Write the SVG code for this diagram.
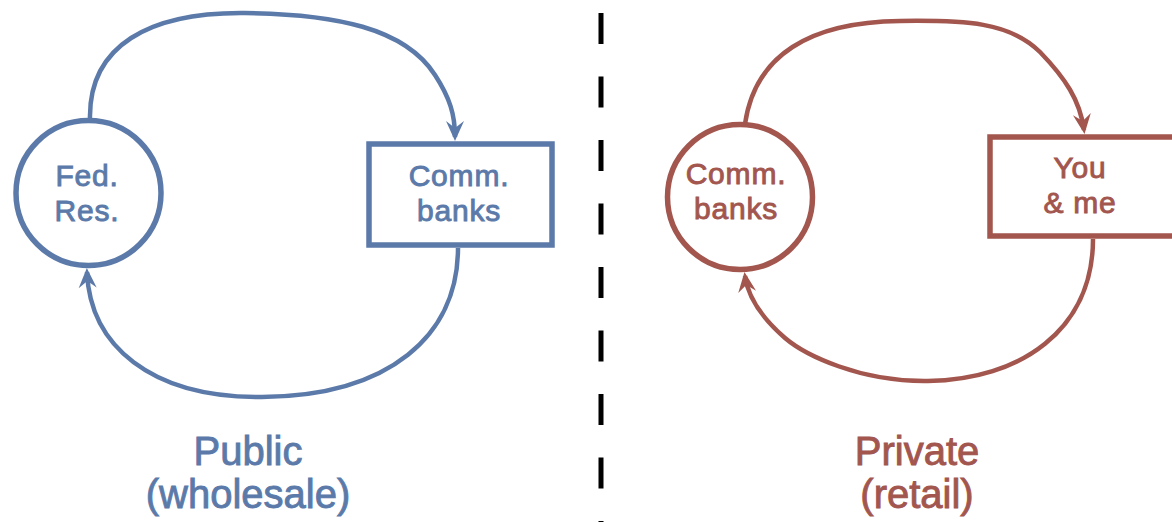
<svg xmlns="http://www.w3.org/2000/svg" width="1172" height="522" viewBox="0 0 1172 522">
  <style>
    .blue { stroke: #5b7aa9; }
    .red { stroke: #a2564e; }
    .node { fill: #ffffff; stroke-width: 5.5; }
    .conn { fill: none; stroke-width: 4.5; }
    .t { font-family: "Liberation Sans", Arial, sans-serif; text-anchor: middle; stroke-width: 0.9; }
    .tb { fill: #5b7aa9; stroke: #5b7aa9; }
    .tr { fill: #a2564e; stroke: #a2564e; }
    .nt { font-size: 30px; letter-spacing: 0.8px; }
    .lt { font-size: 40px; }
  </style>
  <defs>
    <marker id="ab" viewBox="-23 -10 24 20" markerWidth="24" markerHeight="20" refX="-4" refY="0" orient="auto" markerUnits="userSpaceOnUse">
      <path d="M0,0 L-20,-9 L-13,0 L-20,9 Z" fill="#5b7aa9"/>
    </marker>
    <marker id="ar" viewBox="-23 -10 24 20" markerWidth="24" markerHeight="20" refX="-4" refY="0" orient="auto" markerUnits="userSpaceOnUse">
      <path d="M0,0 L-20,-9 L-13,0 L-20,9 Z" fill="#a2564e"/>
    </marker>
  </defs>
  <rect width="1172" height="522" fill="#ffffff"/>

  <g id="divider">
    <line x1="601" y1="13" x2="601" y2="522" stroke="#000000" stroke-width="5" stroke-dasharray="31 32.5"/>
  </g>

  <g id="connectors">
    <path class="conn blue" d="M 90 120 C 88 45, 150 12, 245 13 C 335 14, 405 28, 435 75 C 450 98, 455 115, 455 137" marker-end="url(#ab)"/>
    <path class="conn blue" d="M 458 248 C 458 335, 390 396, 262 397 C 150 398, 90 345, 87 272" marker-end="url(#ab)"/>
    <path class="conn red" d="M 745 124 C 755 55, 810 22, 900 21 C 965 20, 1010 22, 1040 52 C 1065 78, 1080 100, 1084 130" marker-end="url(#ar)"/>
    <path class="conn red" d="M 1093 239 C 1093 330, 1020 380, 928 381 C 860 382, 805 355, 785 338 C 762 318, 748 298, 745 276" marker-end="url(#ar)"/>
  </g>

  <g id="fed-res">
    <ellipse class="node blue" cx="88.5" cy="193" rx="72.5" ry="72.5"/>
    <text class="t tb nt"><tspan x="87" y="186">Fed.</tspan><tspan x="87" y="221">Res.</tspan></text>
  </g>

  <g id="comm-banks-public">
    <rect class="node blue" x="369" y="144" width="183" height="101"/>
    <text class="t tb nt"><tspan x="459" y="186">Comm.</tspan><tspan x="459" y="221">banks</tspan></text>
  </g>

  <g id="comm-banks-private">
    <ellipse class="node red" cx="740" cy="197" rx="72.5" ry="72.5"/>
    <text class="t tr nt"><tspan x="736" y="184">Comm.</tspan><tspan x="736" y="219">banks</tspan></text>
  </g>

  <g id="you-me">
    <rect class="node red" x="990" y="137" width="190" height="99"/>
    <text class="t tr nt"><tspan x="1080" y="178">You</tspan><tspan x="1080" y="213">&amp; me</tspan></text>
  </g>

  <g id="label-public">
    <text class="t tb lt"><tspan x="248" y="465">Public</tspan><tspan x="248" y="508">(wholesale)</tspan></text>
  </g>

  <g id="label-private">
    <text class="t tr lt"><tspan x="917" y="465">Private</tspan><tspan x="917" y="508">(retail)</tspan></text>
  </g>
</svg>
